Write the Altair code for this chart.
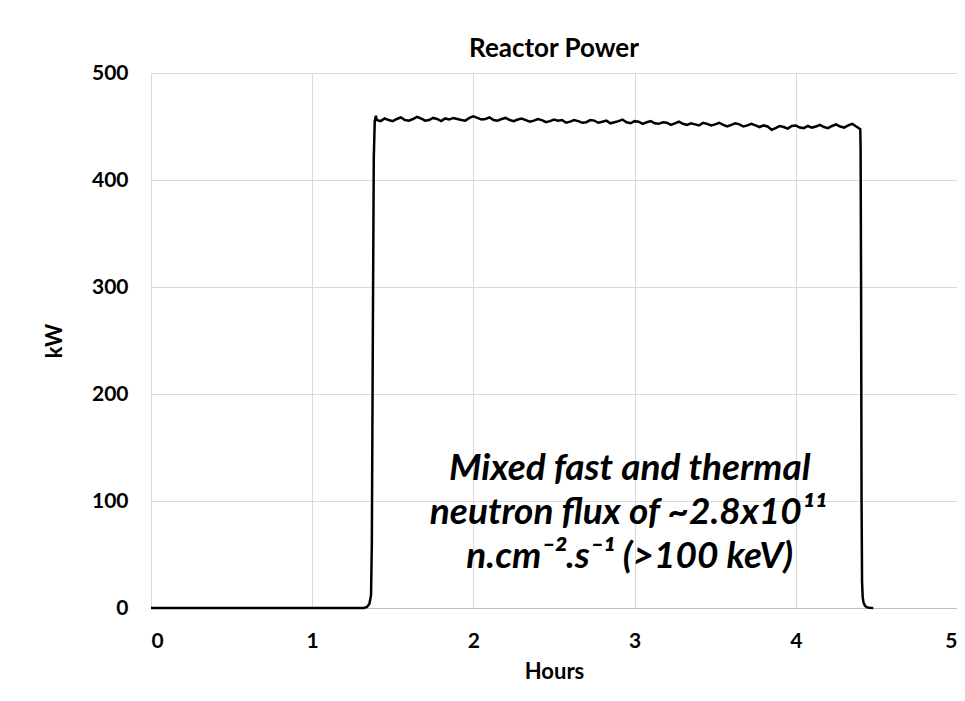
import altair as alt
import pandas as pd

# ---- data ----
X_TICKS = [0, 1, 2, 3, 4, 5]
Y_TICKS = [0, 100, 200, 300, 400, 500]

RISE_HOURS = [0.0, 1.32, 1.34, 1.355, 1.365, 1.370, 1.376, 1.382, 1.388, 1.395]
RISE_KW = [0, 0, 1, 4, 12, 60, 250, 420, 455, 460]

PLATEAU_START = 1.40
PLATEAU_STEP = 0.025
PLATEAU_KW = [
    456, 455, 457.5, 456, 455, 457, 458.5, 456, 455.5, 457,
    459, 457.5, 455.5, 456, 458, 457, 455, 457.5, 456.5, 458,
    457, 456, 455.5, 458, 459.5, 458, 456.5, 457, 458.5, 456,
    455.5, 457, 458, 456, 455, 456.5, 457.5, 456, 454.5, 455.5,
    457, 456, 454, 455, 456.5, 455.5, 456, 453.5, 454.5, 456,
    455, 453.5, 454, 456, 455.5, 453.5, 454.5, 455.5, 453, 454,
    455, 456.5, 454, 453, 455, 454.5, 452.5, 454, 455, 453,
    452.5, 454, 453.5, 451.5, 453, 454.5, 452.5, 451.5, 453, 452,
    451, 453.5, 452.5, 451, 452, 453.5, 451.5, 450, 451.5, 453,
    452, 450, 451, 452.5, 451, 449.5, 451, 450, 447, 448.5,
    450.5, 449.5, 448, 450.5, 451, 449, 448.5, 450.5, 449, 450,
    451.5, 449.5, 448.5, 450.5, 452, 450, 449, 451, 452.5, 450,
    447.5,
]

FALL_HOURS = [4.402, 4.405, 4.408, 4.411, 4.415, 4.42, 4.43, 4.44, 4.455, 4.48]
FALL_KW = [430, 300, 100, 25, 10, 5, 2, 0.8, 0.2, 0]

NOTE_LINES = ["Mixed fast and thermal", "neutron flux of ~2.8x10¹¹", "n.cm⁻².s⁻¹ (>100 keV)"]
NOTE_HOURS = [2.97, 2.96, 2.97]
NOTE_KW = [119.6, 78.5, 37.4]

# ---- build table ----
plateau_hours = [round(PLATEAU_START + PLATEAU_STEP * i, 3) for i in range(len(PLATEAU_KW))]
hours = RISE_HOURS + plateau_hours + FALL_HOURS
kw = RISE_KW + PLATEAU_KW + FALL_KW
df = pd.DataFrame({"Hours": hours, "kW": kw, "order": list(range(len(hours)))})
note_df = pd.DataFrame({"Hours": NOTE_HOURS, "kW": NOTE_KW, "line": NOTE_LINES})

FONT = "Lato"

x_enc = alt.X(
    "Hours:Q",
    scale=alt.Scale(domain=[0, 5], nice=False),
    axis=alt.Axis(
        values=X_TICKS, format="d", title="Hours",
        labelPadding=22, titleY=53, titleBaseline="top",
        domain=True, domainColor="#bfbfbf", domainWidth=1,
    ),
)
y_enc = alt.Y(
    "kW:Q",
    scale=alt.Scale(domain=[0, 500], nice=False),
    axis=alt.Axis(
        values=Y_TICKS, title="kW", labelPadding=23,
        titleX=-97, titleY=267.5, titleAngle=270,
        titleBaseline="middle", titleAlign="center", domain=False,
    ),
)

line = alt.Chart(df).mark_line(color="black", strokeWidth=2.5).encode(
    x=x_enc, y=y_enc, order="order:Q"
)

note = alt.Chart(note_df).mark_text(
    font=FONT, fontSize=37, fontStyle="italic", fontWeight="bold",
    color="black", align="center", baseline="alphabetic",
).encode(x="Hours:Q", y="kW:Q", text="line:N")

chart = (
    alt.layer(line, note)
    .properties(
        width=806,
        height=535,
        autosize=alt.AutoSizeParams(type="none"),
        padding={"left": 143, "top": 65, "right": 0, "bottom": 74},
        title=alt.TitleParams(
            "Reactor Power", font=FONT, fontSize=26, fontWeight="bold",
            color="black", offset=15, baseline="alphabetic", anchor="middle",
            frame="group", dy=36,
        ),
        background="white",
    )
    .configure_view(stroke=None)
    .configure_axis(
        grid=True, gridColor="#d9d9d9", gridWidth=1, ticks=False,
        labelFont=FONT, labelFontSize=21, labelFontWeight="bold", labelColor="black",
        titleFont=FONT, titleFontSize=22, titleFontWeight="bold", titleColor="black",
    )
)

chart.save("out.html", embed_options={"renderer": "svg", "actions": False})
